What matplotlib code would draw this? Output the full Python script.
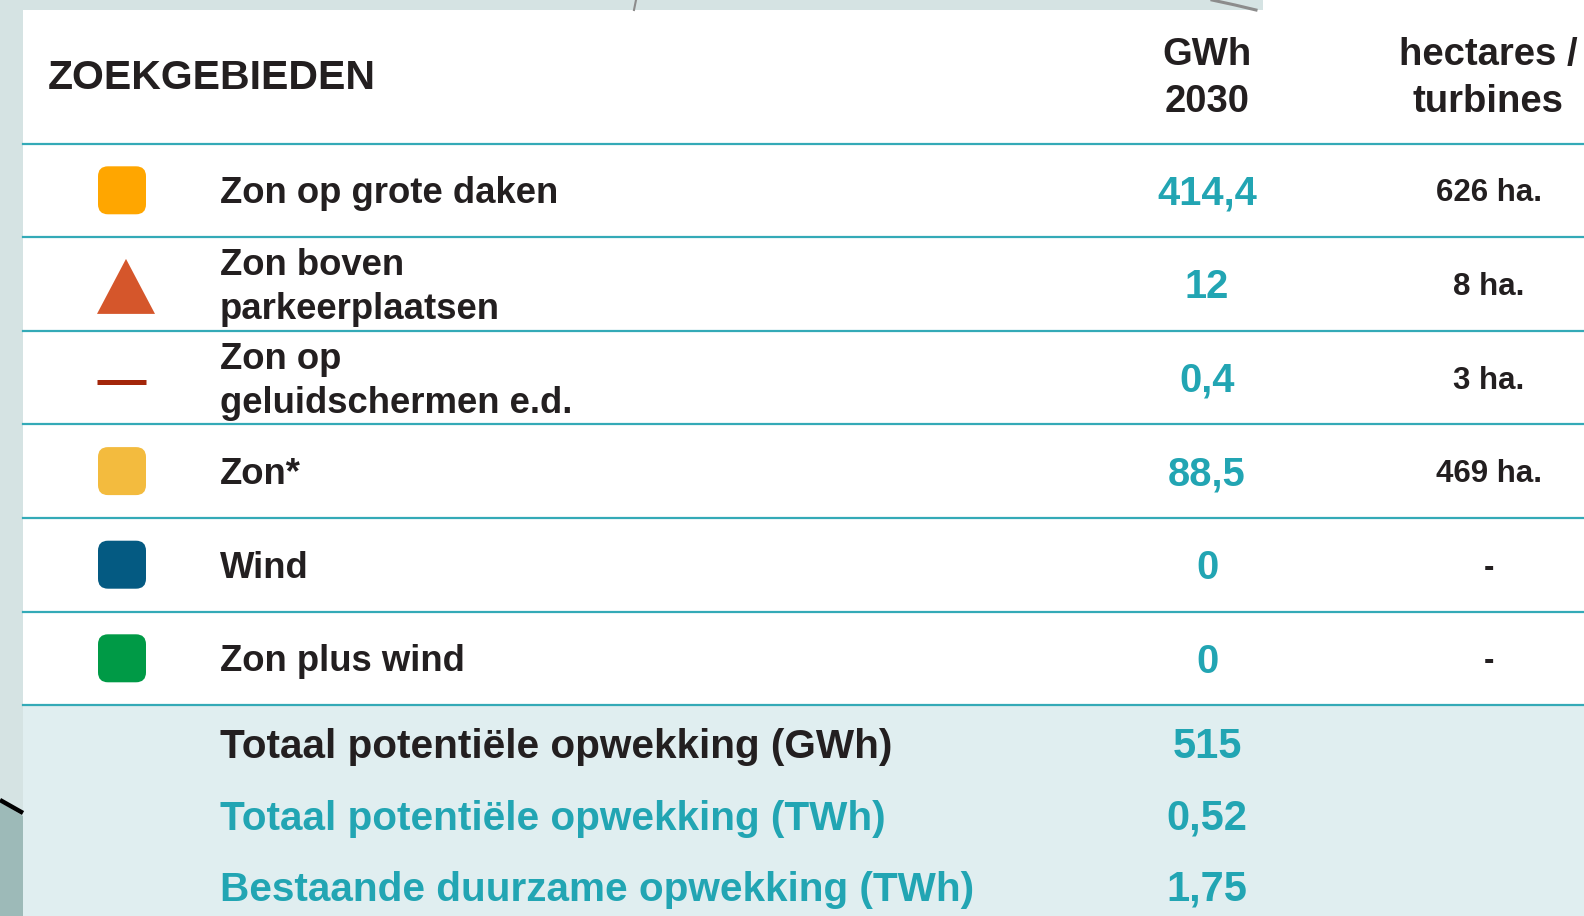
import matplotlib
matplotlib.use("Agg")
import matplotlib.pyplot as plt
from matplotlib.patches import Rectangle, FancyBboxPatch, Polygon

# ---------------- data ----------------
title = "ZOEKGEBIEDEN"
col_headers = ["GWh\n2030", "hectares /\nturbines"]
categories = ["Zon op grote daken", "Zon boven\nparkeerplaatsen", "Zon op\ngeluidschermen e.d.",
              "Zon*", "Wind", "Zon plus wind"]
gwh_2030 = ["414,4", "12", "0,4", "88,5", "0", "0"]
hectares = ["626 ha.", "8 ha.", "3 ha.", "469 ha.", "-", "-"]
marker_kind = ["square", "triangle", "line", "square", "square", "square"]
marker_color = ["#ffa600", "#d5562b", "#a3260a", "#f3bb3e", "#045a82", "#009a46"]
total_labels = ["Totaal potentiële opwekking (GWh)", "Totaal potentiële opwekking (TWh)",
                "Bestaande duurzame opwekking (TWh)"]
total_values = ["515", "0,52", "1,75"]

# ---------------- style ----------------
W, H = 1584, 916
TEAL = "#22a5b3"
LINE = "#34aab7"
BLACK = "#231f20"
FONT = "Liberation Sans"

fig = plt.figure(figsize=(W / 100, H / 100), dpi=100)
ax = fig.add_axes([0, 0, 1, 1])
ax.set_xlim(0, W)
ax.set_ylim(H, 0)
ax.axis("off")

def text_c(x, yc, s, size, color=BLACK, ha="left"):
    # place text so that cap-height centre sits at yc
    em_px = size / 0.72
    ax.text(x, yc + 0.358 * em_px, s, fontsize=size, fontweight="bold", color=color,
            ha=ha, va="baseline", family=FONT)

# background decorations
ax.add_patch(Rectangle((0, 0), 1263, 10, color="#d5e3e3", lw=0))
ax.add_patch(Rectangle((0, 0), 23, H, color="#d5e3e3", lw=0))
ax.add_patch(Polygon([(0, 802), (23, 816), (23, H), (0, H)], closed=True, color="#9dbab8", lw=0))
ax.plot([0, 23], [800, 813], color="black", lw=3.2, solid_capstyle="butt")
ax.plot([636, 634], [0, 10], color="#8c8c8c", lw=1.5)
ax.plot([1212, 1235, 1256], [0, 5, 10], color="#8c8c8c", lw=2.2)

# bottom band
y0 = 143.5
step = 93.6
n = len(categories)
y_bottom = y0 + n * step
ax.add_patch(Rectangle((23, y_bottom), W - 23, H - y_bottom, color="#e0eef0", lw=0))

# header
text_c(48, 74, title, 29.5)
header_x = [1207, 1488]
for hx, hs in zip(header_x, col_headers):
    for j, line in enumerate(hs.split("\n")):
        text_c(hx, 51 + j * 47, line, 27.5, ha="center")

# row separators
for i in range(n + 1):
    y = y0 + i * step
    ax.plot([23, W], [y, y], color=LINE, lw=1.6)

# rows
for i, (cat, val, ha_s, kind, col) in enumerate(zip(categories, gwh_2030, hectares,
                                                    marker_kind, marker_color)):
    yc = y0 + (i + 0.5) * step
    lines = cat.split("\n")
    if len(lines) == 1:
        text_c(220, yc, lines[0], 26.3)
    else:
        for j, line in enumerate(lines):
            text_c(220, yc - 21.5 + j * 44, line, 26.3)
    text_c(1207, yc, val, 28.7, color=TEAL, ha="center")
    text_c(1489, yc, ha_s, 22.5, ha="center")
    mx = 122
    if kind == "square":
        s = 48
        pad = 10
        ax.add_patch(FancyBboxPatch((mx - s / 2 + pad, yc - s / 2 + pad), s - 2 * pad, s - 2 * pad,
                                    boxstyle="round,pad=%d" % pad, color=col, lw=0))
    elif kind == "triangle":
        ax.add_patch(Polygon([(97, yc + 30), (155, yc + 30), (126, yc - 25)],
                             closed=True, color=col, lw=0))
    else:
        ax.plot([97, 146], [yc + 4, yc + 4], color=col, lw=3.6, solid_capstyle="butt")

# totals
tot_y = [743, 815, 886]
for j, (lab, val) in enumerate(zip(total_labels, total_values)):
    c = BLACK if j == 0 else TEAL
    text_c(220, tot_y[j], lab, 29.2, color=c)
    text_c(1207, tot_y[j], val, 30, color=TEAL, ha="center")

fig.savefig("out.png", dpi=100, facecolor="white")
